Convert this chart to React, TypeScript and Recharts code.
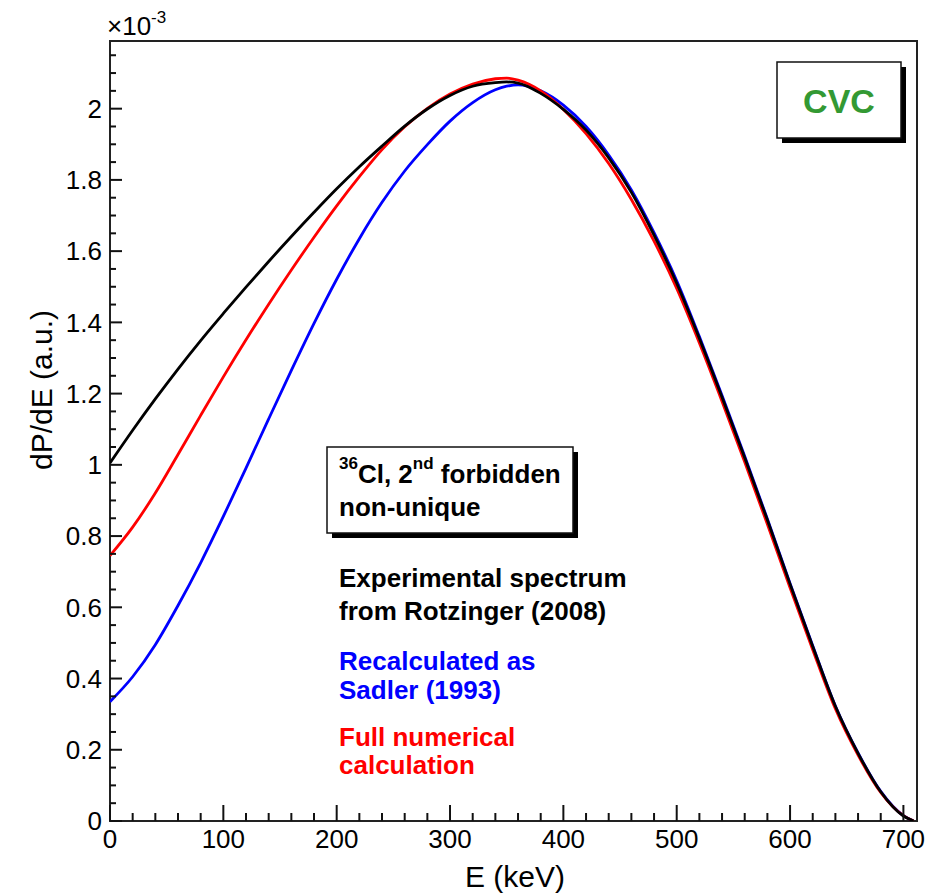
import { LineChart, Line, XAxis, YAxis, ReferenceArea } from "recharts"

// E in keV, dP/dE in units of 1e-3
const energy = [0, 20, 40, 60, 80, 100, 120, 140, 160, 180, 200, 220, 240, 260, 280, 300, 320, 340, 350, 360, 380, 400, 420, 440, 460, 480, 500, 520, 540, 560, 580, 600, 620, 640, 660, 680, 700, 709]

const experimental = [1.005, 1.097, 1.185, 1.269, 1.349, 1.425, 1.499, 1.571, 1.641, 1.709, 1.775, 1.837, 1.895, 1.951, 1.999, 2.037, 2.063, 2.073, 2.075, 2.072, 2.043, 1.998, 1.94, 1.862, 1.765, 1.645, 1.51, 1.355, 1.19, 1.02, 0.845, 0.665, 0.49, 0.322, 0.19, 0.082, 0.014, 0]

const sadler = [0.335, 0.405, 0.495, 0.605, 0.725, 0.855, 0.991, 1.129, 1.265, 1.397, 1.521, 1.635, 1.737, 1.825, 1.899, 1.965, 2.017, 2.053, 2.063, 2.067, 2.05, 2.01, 1.95, 1.87, 1.772, 1.652, 1.517, 1.36, 1.195, 1.024, 0.848, 0.667, 0.492, 0.323, 0.191, 0.083, 0.015, 0]

const fullNumerical = [0.745, 0.825, 0.921, 1.029, 1.139, 1.247, 1.351, 1.451, 1.547, 1.639, 1.727, 1.809, 1.885, 1.949, 2.001, 2.041, 2.069, 2.084, 2.086, 2.08, 2.05, 1.998, 1.93, 1.846, 1.745, 1.628, 1.495, 1.342, 1.178, 1.008, 0.833, 0.655, 0.481, 0.315, 0.185, 0.08, 0.015, 0]

const xTicks = [0, 20, 40, 60, 80, 100, 120, 140, 160, 180, 200, 220, 240, 260, 280, 300, 320, 340, 360, 380, 400, 420, 440, 460, 480, 500, 520, 540, 560, 580, 600, 620, 640, 660, 680, 700]

const yTicks = [0, 0.05, 0.1, 0.15, 0.2, 0.25, 0.3, 0.35, 0.4, 0.45, 0.5, 0.55, 0.6, 0.65, 0.7, 0.75, 0.8, 0.85, 0.9, 0.95, 1, 1.05, 1.1, 1.15, 1.2, 1.25, 1.3, 1.35, 1.4, 1.45, 1.5, 1.55, 1.6, 1.65, 1.7, 1.75, 1.8, 1.85, 1.9, 1.95, 2, 2.05, 2.1, 2.15]

const data = energy.map((e, i) => ({
  e,
  experimental: experimental[i],
  sadler: sadler[i],
  full: fullNumerical[i],
}))

const font = '"Liberation Sans", Arial, Helvetica, sans-serif'

function XTick(props: any) {
  const { x, y, payload } = props
  const v = payload.value
  const major = v % 100 === 0
  return (
    <g>
      <line x1={x} x2={x} y1={y} y2={y - (major ? 16 : 8)} stroke="#111" strokeWidth={2} />
      {major && (
        <text x={x} y={y + 27} textAnchor="middle" fontSize={26} fontFamily={font} fill="#000">
          {v}
        </text>
      )}
    </g>
  )
}

function YTick(props: any) {
  const { x, y, payload } = props
  const v = payload.value
  const major = Math.abs(v * 5 - Math.round(v * 5)) < 1e-6
  return (
    <g>
      <line x1={x} x2={x + (major ? 12 : 6)} y1={y} y2={y} stroke="#111" strokeWidth={2} />
      {major && (
        <text x={x - 8} y={y} dy="0.36em" textAnchor="end" fontSize={26} fontFamily={font} fill="#000">
          {String(Number(v.toFixed(2)))}
        </text>
      )}
    </g>
  )
}

export default function App() {
  return (
    <div style={{ position: "absolute", left: 0, top: 0, width: 927, height: 896, background: "#fff" }}>
      <LineChart width={927} height={896} data={data} margin={{ top: 41, right: 10, bottom: 0, left: 0 }}>
        <XAxis
          dataKey="e"
          type="number"
          domain={[0, 712]}
          ticks={xTicks}
          interval={0}
          tick={(p: any) => <XTick {...p} />}
          tickLine={false}
          axisLine={false}
          tickSize={0}
          tickMargin={0}
          height={75}
          allowDataOverflow
        />
        <YAxis
          type="number"
          domain={[0, 2.19]}
          ticks={yTicks}
          interval={0}
          tick={(p: any) => <YTick {...p} />}
          tickLine={false}
          axisLine={false}
          tickSize={0}
          tickMargin={0}
          width={110}
          allowDataOverflow
        />
        <ReferenceArea x1={0} x2={712} y1={0} y2={2.19} fill="none" stroke="#222" strokeWidth={2} ifOverflow="visible" />
        <Line type="monotone" dataKey="sadler" stroke="#0000ff" strokeWidth={2.8} dot={false} isAnimationActive={false} />
        <Line type="monotone" dataKey="full" stroke="#ff0000" strokeWidth={2.8} dot={false} isAnimationActive={false} />
        <Line type="monotone" dataKey="experimental" stroke="#000000" strokeWidth={2.8} dot={false} isAnimationActive={false} />
      </LineChart>

      <svg width={927} height={896} style={{ position: "absolute", left: 0, top: 0, pointerEvents: "none" }} fontFamily={font}>
        <text x={107} y={35} fontSize={26} fill="#000">
          ×10<tspan fontSize={17} dy={-12}>-3</tspan>
        </text>

        <text transform="rotate(-90)" x={-390} y={52} textAnchor="middle" fontSize={30} fill="#000">
          dP/dE (a.u.)
        </text>
        <text x={515} y={887} textAnchor="middle" fontSize={30} fill="#000">
          E (keV)
        </text>

        <rect x={782} y={67} width={124} height={76} fill="#000" />
        <rect x={777} y={62} width={124} height={76} fill="#fff" stroke="#111" strokeWidth={1.5} />
        <text x={839} y={113} textAnchor="middle" fontSize={34} fontWeight="bold" fill="#339933">
          CVC
        </text>

        <rect x={332} y={452} width={246} height={86} fill="#000" />
        <rect x={327} y={447} width={246} height={86} fill="#fff" stroke="#111" strokeWidth={1.5} />
        <text x={339} y={483} fontSize={26} fontWeight="bold" fill="#000" style={{ whiteSpace: "pre" }}>
          <tspan fontSize={17} dy={-14}>36</tspan>
          <tspan dy={14}>Cl, 2</tspan>
          <tspan fontSize={17} dy={-14}>nd</tspan>
          <tspan dy={14}> forbidden</tspan>
        </text>
        <text x={339} y={516} fontSize={26} fontWeight="bold" fill="#000">
          non-unique
        </text>

        <g fontSize={26} fontWeight="bold">
          <text x={339} y={587} fill="#000">Experimental spectrum</text>
          <text x={339} y={620} fill="#000">from Rotzinger (2008)</text>
          <text x={339} y={670} fill="#0000ff">Recalculated as</text>
          <text x={339} y={699} fill="#0000ff">Sadler (1993)</text>
          <text x={339} y={746} fill="#ff0000">Full numerical</text>
          <text x={339} y={774} fill="#ff0000">calculation</text>
        </g>
      </svg>
    </div>
  )
}
